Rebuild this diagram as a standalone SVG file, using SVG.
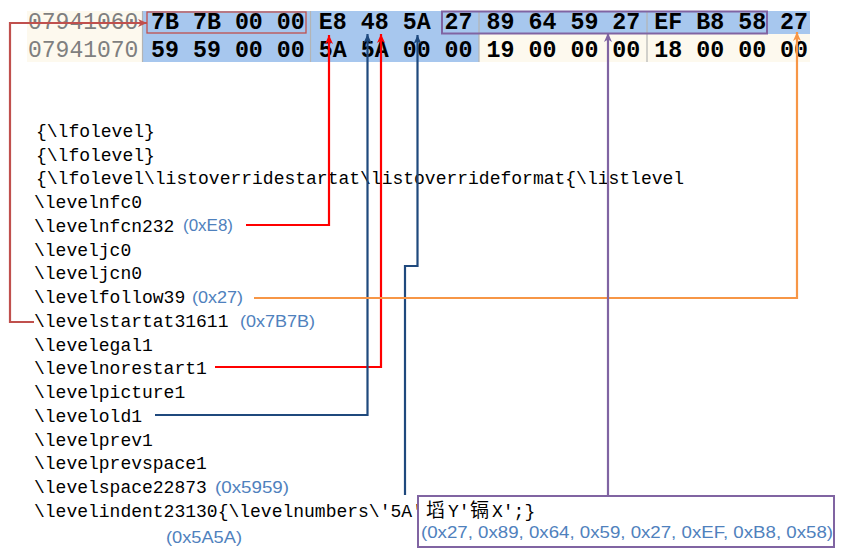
<svg xmlns="http://www.w3.org/2000/svg" width="845" height="556" viewBox="0 0 845 556">
<style>
.addr{font-family:"Liberation Mono",monospace;font-size:23px;fill:#7f7f7f}
.hex{font-family:"Liberation Mono",monospace;font-size:23.3px;font-weight:bold;fill:#000}
.code{font-family:"Liberation Mono","Noto Sans CJK SC",monospace;font-size:18px;fill:#000}
.cjk{font-family:"Noto Sans CJK SC",sans-serif;font-size:19px;fill:#000}
.ann{font-family:"Liberation Sans",Arial,sans-serif;font-size:17px;fill:#4f81bd}
.ln{fill:none;stroke-width:2.2}
</style>
<defs>
<marker id="aRed" markerWidth="10" markerHeight="10" refX="9" refY="5" orient="auto" markerUnits="userSpaceOnUse"><path d="M0,1 L9,5 L0,9 L2.5,5 z" fill="#ff0000"/></marker>
<marker id="aBlue" markerWidth="10" markerHeight="10" refX="9" refY="5" orient="auto" markerUnits="userSpaceOnUse"><path d="M0,1 L9,5 L0,9 L2.5,5 z" fill="#1f497d"/></marker>
<marker id="aOrg" markerWidth="10" markerHeight="10" refX="9" refY="5" orient="auto" markerUnits="userSpaceOnUse"><path d="M0,1 L9,5 L0,9 L2.5,5 z" fill="#f79646"/></marker>
<marker id="aPur" markerWidth="10" markerHeight="10" refX="9" refY="5" orient="auto" markerUnits="userSpaceOnUse"><path d="M0,1 L9,5 L0,9 L2.5,5 z" fill="#8064a2"/></marker>
<marker id="aBrk" markerWidth="10" markerHeight="10" refX="9" refY="5" orient="auto" markerUnits="userSpaceOnUse"><path d="M0,1 L9,5 L0,9 L2.5,5 z" fill="#c0504d"/></marker>
</defs>
<rect width="845" height="556" fill="#fff"/>
<g id="hexdump">
<rect x="27" y="11" width="116" height="51" fill="#fdf9ee"/>
<rect x="143" y="11" width="667" height="23" fill="#a7c7ee"/>
<rect x="143" y="34" width="336" height="28" fill="#a7c7ee"/>
<rect x="479" y="34" width="331" height="28" fill="#fdf9ee"/>
<g stroke="#b4b4b4" stroke-width="1.2">
<line x1="142.5" y1="11" x2="142.5" y2="62"/>
<line x1="310.5" y1="11" x2="310.5" y2="62"/>
<line x1="479" y1="11" x2="479" y2="62"/>
<line x1="647" y1="11" x2="647" y2="62"/>
</g>
<text class="addr" x="28" y="29">07941060</text>
<text class="addr" x="28" y="57">07941070</text>
<text class="hex" x="151" y="29" xml:space="preserve">7B 7B 00 00 E8 48 5A 27 89 64 59 27 EF B8 58 27</text>
<text class="hex" x="151" y="57" xml:space="preserve">59 59 00 00 5A 5A 00 00 19 00 00 00 18 00 00 00</text>
<rect x="147" y="12" width="159" height="21" fill="none" stroke="#c0504d" stroke-width="1.3"/>
<rect x="442" y="11.5" width="325" height="22" fill="none" stroke="#8064a2" stroke-width="2"/>
</g>
<g id="rtf">
<text class="code" x="36" y="137">{\lfolevel}</text>
<text class="code" x="36" y="161">{\lfolevel}</text>
<text class="code" x="36" y="184">{\lfolevel\listoverridestartat\listoverrideformat{\listlevel</text>
<text class="code" x="34" y="208">\levelnfc0</text>
<text class="code" x="34" y="232">\levelnfcn232</text>
<text class="code" x="34" y="256">\leveljc0</text>
<text class="code" x="34" y="279">\leveljcn0</text>
<text class="code" x="34" y="303">\levelfollow39</text>
<text class="code" x="34" y="327">\levelstartat31611</text>
<text class="code" x="34" y="351">\levelegal1</text>
<text class="code" x="34" y="374">\levelnorestart1</text>
<text class="code" x="34" y="398">\levelpicture1</text>
<text class="code" x="34" y="422">\levelold1</text>
<text class="code" x="34" y="446">\levelprev1</text>
<text class="code" x="34" y="469">\levelprevspace1</text>
<text class="code" x="34" y="493">\levelspace22873</text>
<text class="code" x="34" y="517">\levelindent23130{\levelnumbers\'5A'<tspan class="cjk" x="426">塪</tspan><tspan x="448">Y'</tspan><tspan class="cjk" x="470">镉</tspan><tspan x="492">X';}</tspan></text>
</g>
<g id="annotations">
<text class="ann" x="183" y="231" textLength="50" lengthAdjust="spacingAndGlyphs">(0xE8)</text>
<text class="ann" x="192" y="303" textLength="51" lengthAdjust="spacingAndGlyphs">(0x27)</text>
<text class="ann" x="240" y="327" textLength="75" lengthAdjust="spacingAndGlyphs">(0x7B7B)</text>
<text class="ann" x="215" y="493" textLength="74" lengthAdjust="spacingAndGlyphs">(0x5959)</text>
<text class="ann" x="166" y="543" textLength="76" lengthAdjust="spacingAndGlyphs">(0x5A5A)</text>
</g>
<g id="bytesbox">
<rect x="418" y="496" width="416" height="51" fill="none" stroke="#8064a2" stroke-width="2"/>
<text class="ann" x="421" y="538" textLength="412" lengthAdjust="spacingAndGlyphs">(0x27, 0x89, 0x64, 0x59, 0x27, 0xEF, 0xB8, 0x58)</text>
</g>
<g id="connectors">
<path class="ln" stroke="#c0504d" d="M34,322 H10 V23 H147" marker-end="url(#aBrk)"/>
<path class="ln" stroke="#ff0000" d="M246,225 H329 V35" marker-end="url(#aRed)"/>
<path class="ln" stroke="#ff0000" d="M215,367 H381 V34" marker-end="url(#aRed)"/>
<path class="ln" stroke="#1f497d" d="M155,415 H367.5 V34" marker-end="url(#aBlue)"/>
<path class="ln" stroke="#1f497d" d="M405,495 V266 H417.5 V35" marker-end="url(#aBlue)"/>
<path class="ln" stroke="#f79646" d="M254,298 H797 V32" marker-end="url(#aOrg)"/>
<path class="ln" stroke="#8064a2" d="M608,496 V33" marker-end="url(#aPur)"/>
</g>
</svg>
